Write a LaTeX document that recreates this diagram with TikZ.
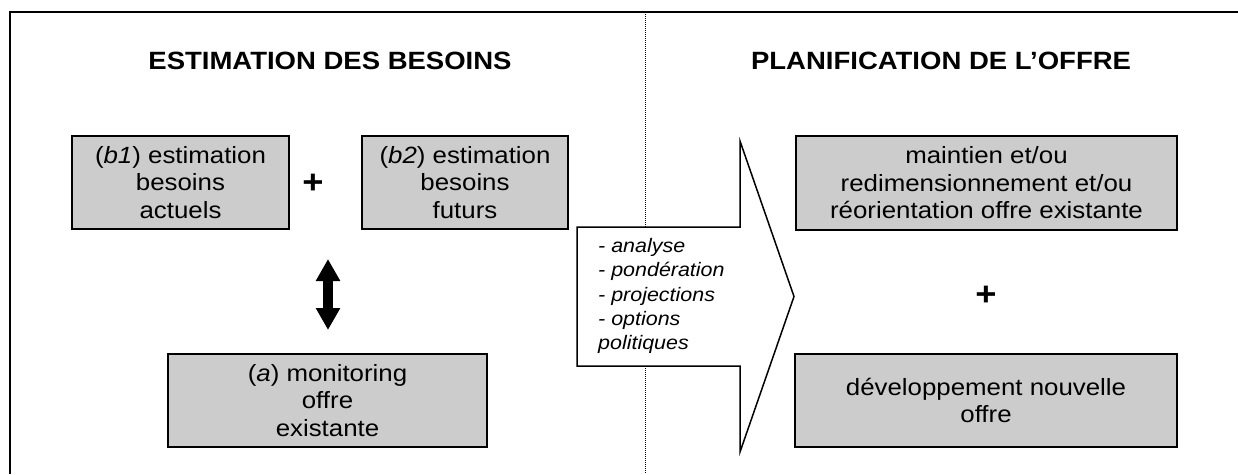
\documentclass[tikz,border=0pt]{standalone}
\usepackage{fontspec}
\setmainfont{Liberation Sans}[FakeStretch=1.1]
\usetikzlibrary{arrows.meta}
\definecolor{boxgray}{RGB}{204,204,204}
\begin{document}
\begin{tikzpicture}[x=1pt,y=-1pt,
  gbox/.style={draw, line width=2pt, fill=boxgray, inner sep=0pt, align=center,
    font=\fontsize{23.5}{27.5}\selectfont},
  head/.style={font=\fontsize{25}{29}\selectfont\bfseries, inner sep=0pt},
  plus/.style={font=\fontsize{33}{33}\selectfont\bfseries, inner sep=0pt},
  listtext/.style={font=\fontsize{19.5}{24.3}\selectfont\itshape, align=left, inner sep=0pt},
  divider/.style={line width=0.9pt, dash pattern=on 1pt off 1pt},
  bigarrow/.style={draw, line width=1.5pt, fill=white},
  dblarrow/.style={line width=10pt, {Triangle[width=23pt,length=22pt]}-{Triangle[width=23pt,length=22pt]}}
]
\useasboundingbox (0,0) rectangle (1238,474);
\fill[white] (0,0) rectangle (1238,474);

% frame
\draw[line width=2.5pt] (10,474) -- (10,12) -- (1238,12);
% divider
\draw[divider] (645,12) -- (645,474);

% headings
\node[head] (h1) at (330,61) {ESTIMATION DES BESOINS};
\node[head] (h2) at (941,61) {PLANIFICATION DE L’OFFRE};

% left boxes
\node[gbox, minimum width=217pt, minimum height=93pt] (b1) at (180.5,182.5)
  {(\textit{b1}) estimation\\besoins\\actuels};
\node[gbox, minimum width=206pt, minimum height=93pt] (b2) at (465,182.5)
  {(\textit{b2}) estimation\\besoins\\futurs};
\node[plus] (p1) at (313,184) {+};
\node[gbox, minimum width=319pt, minimum height=93pt] (a) at (327.5,400.5)
  {(\textit{a}) monitoring\\offre\\existante};

\coordinate (dt) at (328,259);
\coordinate (db) at (328,330);
\draw[dblarrow] (dt) -- (db);

% big arrow
\draw[bigarrow] (577,227) -- (740,227) -- (740,141) -- (794,296.5) -- (740,452)
  -- (740,366) -- (577,366) -- cycle;
\node[listtext, anchor=west] (list) at (598,296)
  {- analyse\\- pondération\\- projections\\- options\\politiques};

% right boxes
\node[gbox, minimum width=381pt, minimum height=94pt] (r1) at (986.5,183)
  {maintien et/ou\\redimensionnement et/ou\\réorientation offre existante};
\node[plus] (p2) at (986,296) {+};
\node[gbox, minimum width=382pt, minimum height=93pt] (r2) at (986,400.5)
  {développement nouvelle\\offre};
\end{tikzpicture}
\end{document}
